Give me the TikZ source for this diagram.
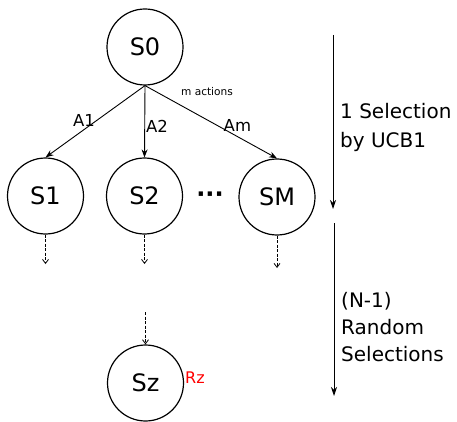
\documentclass[tikz,border=0pt]{standalone}
\usepackage{fontspec}
\setmainfont{DejaVu Sans}
\usetikzlibrary{arrows.meta}
\begin{document}
\begin{tikzpicture}[x=1pt,y=-1pt,
  state/.style={circle,draw,line width=1.2pt,minimum size=76pt,inner sep=0pt,font=\fontsize{24}{28}\selectfont},
  edge/.style={line width=0.9pt,-{Stealth[length=8pt,width=6pt]}},
  sim/.style={line width=0.8pt,dash pattern=on 3pt off 1.5pt,-{Straight Barb[length=4pt,width=6pt]}},
  phase/.style={line width=0.9pt,-{Stealth[length=9pt,width=6pt]}},
  lbl/.style={font=\fontsize{16.5}{19}\selectfont,inner sep=1pt},
  note/.style={font=\fontsize{20}{24}\selectfont,align=left,anchor=west,inner sep=0pt}]
\useasboundingbox (0,0) rectangle (457,422);
% tree nodes
\node[state] (s0) at (145,47) {S0};
\node[state] (s1) at (45.5,196) {S1};
\node[state] (s2) at (144.5,196) {S2};
\node[state] (sm) at (277,197) {SM};
\node[state] (sz) at (145.5,383) {Sz};
\node[font=\bfseries\fontsize{24}{28}\selectfont,inner sep=0pt] (dots) at (210,197) {···};
\node[text=red,font=\fontsize{16}{19}\selectfont,anchor=west,inner sep=0pt] (rz) at (185,378) {Rz};
% selection edges
\draw[edge] (s0.south) -- node[lbl,pos=0.49,anchor=east] {A1} (s1.north);
\draw[edge] (s0.south) -- node[lbl,pos=0.57,anchor=west] {A2} (s2.north);
\draw[edge] (s0.south) -- node[lbl,pos=0.7,anchor=south,yshift=4pt] {Am} (sm.north);
\node[font=\fontsize{10.6}{12}\selectfont] (mact) at (207,92) {m actions};
% random rollouts
\coordinate (e1) at (45.5,264);
\coordinate (e2) at (144.5,264);
\coordinate (em) at (277,268);
\coordinate (sztop) at (145.5,312);
\draw[sim] (s1.south) -- (e1);
\draw[sim] (s2.south) -- (e2);
\draw[sim] (sm.south) -- (em);
\draw[sim] (sztop) -- (sz.north);
% phase arrows
\coordinate (p1a) at (333,35);
\coordinate (p1b) at (333,209);
\coordinate (p2a) at (334,223);
\coordinate (p2b) at (334,396);
\draw[phase] (p1a) -- (p1b);
\draw[phase] (p2a) -- (p2b);
\node[note,font=\fontsize{20}{29}\selectfont] (t1) at (340,127) {1 Selection\\by UCB1};
\node[note,font=\fontsize{20}{27}\selectfont] (t2) at (341,327) {(N-1)\\Random\\Selections};
\end{tikzpicture}
\end{document}
